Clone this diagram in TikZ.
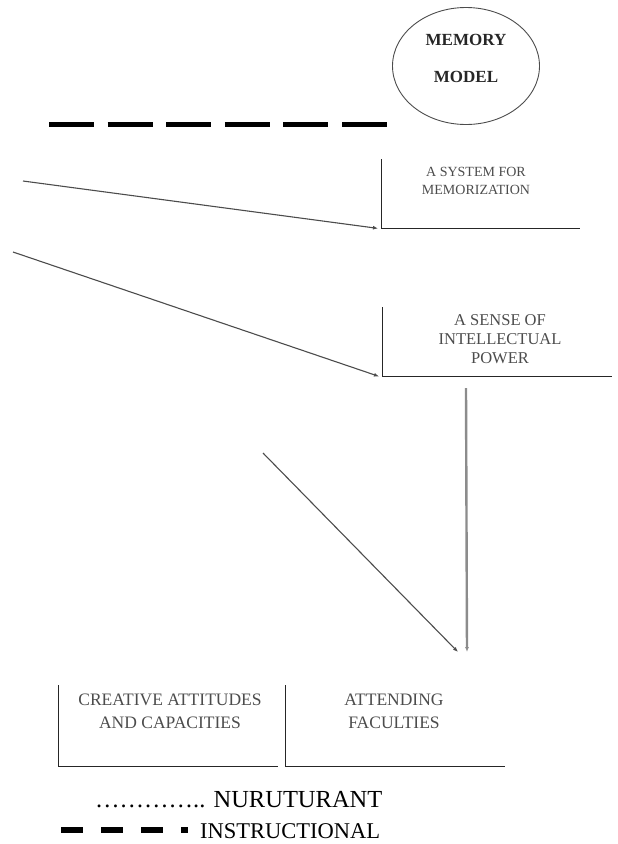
\documentclass[tikz,border=0pt]{standalone}
\usepackage{fontspec}
\setmainfont{Liberation Serif}
\usetikzlibrary{arrows.meta,shapes.geometric}

\tikzset{
  memtext/.style={align=center, text=black!85, font=\bfseries\fontsize{17}{37}\selectfont, inner sep=0pt},
  boxtext/.style={align=center, text=black!70, font=\fontsize{14}{18}\selectfont, inner sep=0pt},
  openbox/.style={minimum height=69pt, inner sep=0pt, anchor=north west},
  boxline/.style={draw=black!85, line width=1pt},
  arr/.style={draw=black!70, line width=1.1pt, -{Latex[length=5pt,width=4pt]}},
  instr/.style={line width=5pt, dash pattern=on 45pt off 13.6pt},
  legdash/.style={line width=6pt, dash pattern=on 22pt off 18pt},
  legtext/.style={font=\fontsize{24.5}{26}\selectfont, inner sep=0pt, anchor=base west},
}

\begin{document}
\begin{tikzpicture}[x=1pt, y=-1pt]
  \useasboundingbox (0,0) rectangle (618,844);

  % memory model
  \node[draw=black!70, line width=0.9pt, ellipse, minimum width=147pt, minimum height=117pt] (memory) at (466,66) {};
  \node[memtext] (memorytxt) at (466,58) {MEMORY\\MODEL};

  % instructional line
  \coordinate (instrL) at (49,124.5);
  \coordinate (instrR) at (387,124.5);
  \draw[instr] (instrL) -- (instrR);

  % boxes
  \node[openbox, minimum width=199pt] (sysmem) at (381,159) {};
  \draw[boxline] (sysmem.north west) |- (sysmem.south east);
  \node[boxtext] (sysmemtxt) at (476,181) {A SYSTEM FOR\\MEMORIZATION};

  \node[openbox, minimum width=230pt] (power) at (382,307) {};
  \draw[boxline] (power.north west) |- (power.south east);
  \node[boxtext, font=\fontsize{16.5}{19}\selectfont] (powertxt) at (500,339) {A SENSE OF\\INTELLECTUAL\\POWER};

  \node[openbox, minimum width=220pt, minimum height=81pt] (creative) at (58,685) {};
  \draw[boxline] (creative.north west) |- (creative.south east);
  \node[boxtext, font=\fontsize{17.5}{23}\selectfont] (creativetxt) at (170,711) {CREATIVE ATTITUDES\\AND CAPACITIES};

  \node[openbox, minimum width=220pt, minimum height=81pt] (attend) at (285,685) {};
  \draw[boxline] (attend.north west) |- (attend.south east);
  \node[boxtext, font=\fontsize{17.5}{23}\selectfont] (attendtxt) at (394,711) {ATTENDING\\FACULTIES};

  % arrows
  \coordinate (src1) at (23,181);
  \draw[arr] (src1) -- ([xshift=-3pt]sysmem.south west);
  \coordinate (src2) at (13,252);
  \draw[arr] (src2) -- ([xshift=-3pt]power.south west);
  \coordinate (src3) at (263,453);
  \coordinate (tipA) at (458,652);
  \draw[arr] (src3) -- (tipA);
  \coordinate (powerout) at (466,388);
  \coordinate (tipB) at (467,652);
  \draw[arr, draw=black!45, line width=2.4pt] (powerout) -- (tipB);

  % legend
  \node[legtext] (nurturant) at (95,807) {………….. NURUTURANT};
  \coordinate (legL) at (61,830);
  \coordinate (legR) at (188,830);
  \draw[legdash] (legL) -- (legR);
  \node[legtext, font=\fontsize{22.5}{26}\selectfont] (instructional) at (200,838) {INSTRUCTIONAL};
\end{tikzpicture}
\end{document}
